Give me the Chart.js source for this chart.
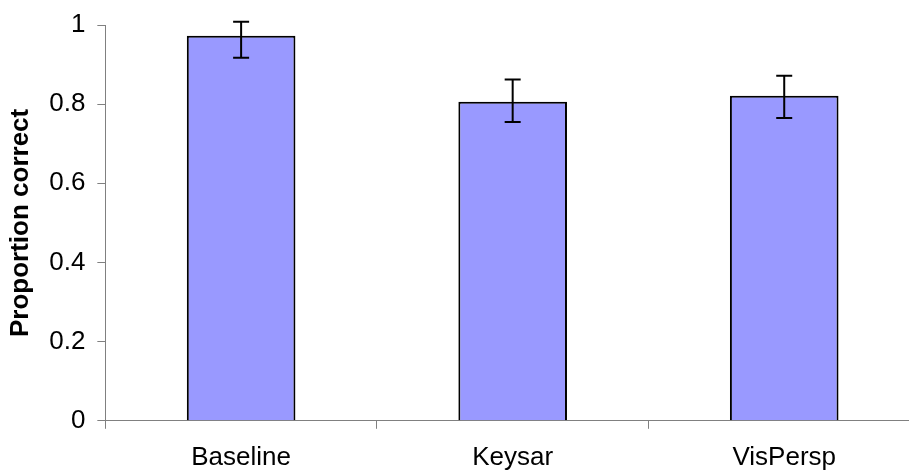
<!DOCTYPE html>
<html>
<head>
<meta charset="utf-8">
<script src="https://cdn.jsdelivr.net/npm/chart.js@4"></script>
<style>
  html, body { margin: 0; padding: 0; background: #fff; overflow: hidden; }
  .wrap { width: 920px; height: 472px; }
</style>
</head>
<body>
<div class="wrap"><canvas id="chart" width="920" height="472"></canvas></div>
<script>
const categories = ['Baseline', 'Keysar', 'VisPersp'];
const proportionCorrect = [0.973, 0.806, 0.821];
const errorHigh = [1.008, 0.862, 0.872];
const errorLow = [0.917, 0.755, 0.765];
const yTicks = [0, 0.2, 0.4, 0.6, 0.8, 1];

const AXIS_GREY = '#808080';
const FONT = 'Liberation Sans, Arial, sans-serif';

// draws the error bars on top of each bar
const errorBars = {
    id: 'errorBars',
    afterDatasetsDraw(chart) {
        const ctx = chart.ctx;
        const yScale = chart.scales.y;
        const meta = chart.getDatasetMeta(0);
        ctx.save();
        ctx.strokeStyle = '#000';
        ctx.lineWidth = 2;
        meta.data.forEach((bar, i) => {
            const yHi = yScale.getPixelForValue(errorHigh[i]);
            const yLo = yScale.getPixelForValue(errorLow[i]);
            const cap = 8;
            ctx.beginPath();
            ctx.moveTo(bar.x, yHi);
            ctx.lineTo(bar.x, yLo);
            ctx.moveTo(bar.x - cap, yHi);
            ctx.lineTo(bar.x + cap, yHi);
            ctx.moveTo(bar.x - cap, yLo);
            ctx.lineTo(bar.x + cap, yLo);
            ctx.stroke();
        });
        ctx.restore();
    }
};

const ctx = document.getElementById('chart').getContext('2d');
new Chart(ctx, {
    type: 'bar',
    data: {
        labels: categories,
        datasets: [{
            data: proportionCorrect,
            backgroundColor: '#9999FF',
            borderColor: '#000',
            borderWidth: 2,
            barPercentage: 0.4,
            categoryPercentage: 1
        }]
    },
    options: {
        responsive: false,
        animation: false,
        layout: { padding: { top: 0, right: 0, bottom: -14, left: 5 } },
        plugins: {
            legend: { display: false },
            tooltip: { enabled: false }
        },
        scales: {
            x: {
                grid: { display: true, drawOnChartArea: false, offset: true, tickLength: 8, color: AXIS_GREY },
                border: { color: AXIS_GREY, width: 1 },
                ticks: {
                    color: '#000',
                    padding: 13,
                    font: { family: FONT, size: 26 }
                }
            },
            y: {
                min: 0,
                max: 1,
                afterBuildTicks(axis) {
                    axis.ticks = yTicks.map(v => ({ value: v }));
                },
                afterFit(axis) {
                    axis.paddingTop = 25;
                },
                grid: { display: true, drawOnChartArea: false, tickLength: 8, color: AXIS_GREY },
                border: { color: AXIS_GREY, width: 1 },
                ticks: {
                    color: '#000',
                    padding: 12,
                    font: { family: FONT, size: 26 },
                    callback: v => String(v)
                },
                title: {
                    display: true,
                    text: 'Proportion correct',
                    color: '#000',
                    padding: { top: 0, bottom: 1 },
                    font: { family: FONT, size: 26, weight: 'bold' }
                }
            }
        }
    },
    plugins: [errorBars]
});
</script>
</body>
</html>
